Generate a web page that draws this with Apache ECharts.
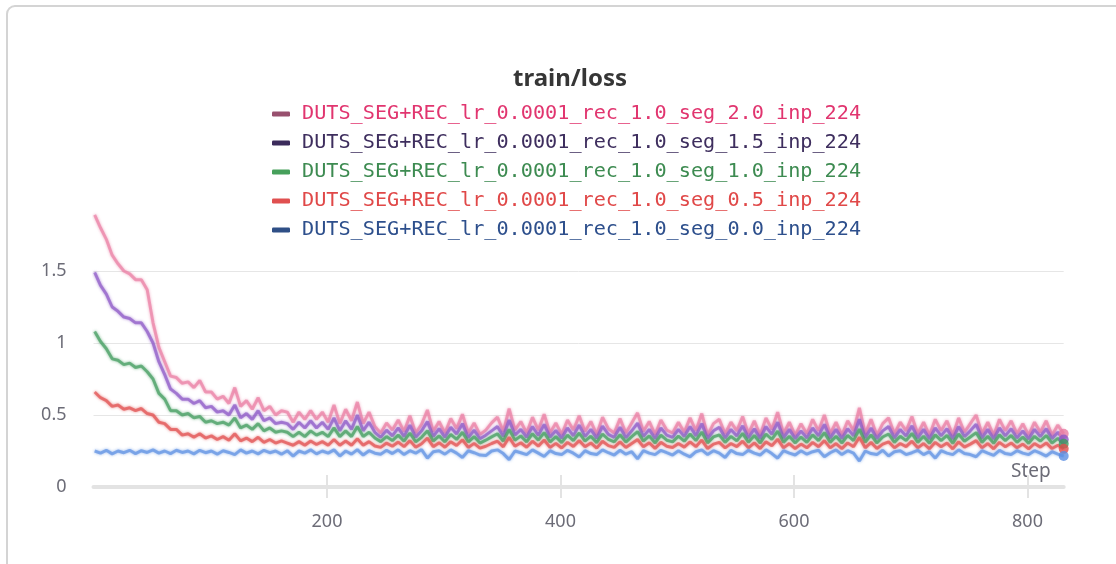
<!DOCTYPE html>
<html>
<head>
<meta charset="utf-8">
<script src="https://cdn.jsdelivr.net/npm/echarts@6/dist/echarts.min.js"></script>
<style>
  html, body { margin: 0; padding: 0; background: #fff; overflow: hidden; }
  #chart { width: 1116px; height: 564px; }
</style>
</head>
<body>
<div id="chart"></div>
<script>
// Run names, in legend order
const runNames = [
  'DUTS_SEG+REC_lr_0.0001_rec_1.0_seg_2.0_inp_224',
  'DUTS_SEG+REC_lr_0.0001_rec_1.0_seg_1.5_inp_224',
  'DUTS_SEG+REC_lr_0.0001_rec_1.0_seg_1.0_inp_224',
  'DUTS_SEG+REC_lr_0.0001_rec_1.0_seg_0.5_inp_224',
  'DUTS_SEG+REC_lr_0.0001_rec_1.0_seg_0.0_inp_224'
];

// train/loss is logged every 5 steps, starting at step 1
const stepFirst = 1;
const stepEvery = 5;

const lossSeg20 = [
  1.89, 1.80, 1.72, 1.61, 1.55, 1.50, 1.48, 1.44, 1.44, 1.37,
  1.14, 0.97, 0.87, 0.77, 0.76, 0.72, 0.73, 0.69, 0.74, 0.66,
  0.66, 0.61, 0.63, 0.58, 0.69, 0.56, 0.60, 0.54, 0.62, 0.53,
  0.56, 0.50, 0.53, 0.52, 0.45, 0.52, 0.47, 0.53, 0.47, 0.52,
  0.45, 0.57, 0.44, 0.54, 0.46, 0.59, 0.44, 0.52, 0.42, 0.375,
  0.445, 0.395, 0.465, 0.385, 0.495, 0.375, 0.435, 0.535, 0.385, 0.455,
  0.375, 0.475, 0.405, 0.505, 0.375, 0.445, 0.365, 0.395, 0.445, 0.485,
  0.385, 0.545, 0.395, 0.455, 0.375, 0.485, 0.395, 0.505, 0.375, 0.445,
  0.365, 0.465, 0.395, 0.495, 0.385, 0.455, 0.365, 0.485, 0.405, 0.375,
  0.475, 0.375, 0.445, 0.515, 0.385, 0.455, 0.365, 0.465, 0.395, 0.375,
  0.45, 0.38, 0.48, 0.39, 0.51, 0.36, 0.44, 0.47, 0.37, 0.45,
  0.39, 0.49, 0.37, 0.46, 0.36, 0.48, 0.40, 0.52, 0.37, 0.45,
  0.36, 0.44, 0.37, 0.47, 0.39, 0.50, 0.37, 0.45, 0.36, 0.46,
  0.39, 0.55, 0.37, 0.47, 0.36, 0.44, 0.48, 0.37, 0.45, 0.39,
  0.49, 0.37, 0.45, 0.36, 0.47, 0.39, 0.46, 0.36, 0.48, 0.38,
  0.44, 0.50, 0.37, 0.45, 0.36, 0.47, 0.39, 0.46, 0.37, 0.44,
  0.36, 0.45, 0.38, 0.46, 0.36, 0.43, 0.37
];

const lossSeg15 = [
  1.49, 1.40, 1.34, 1.25, 1.22, 1.18, 1.17, 1.14, 1.14, 1.08,
  1.00, 0.87, 0.78, 0.68, 0.65, 0.61, 0.61, 0.58, 0.60, 0.55,
  0.56, 0.52, 0.53, 0.50, 0.57, 0.48, 0.51, 0.47, 0.53, 0.46,
  0.48, 0.44, 0.45, 0.44, 0.40, 0.45, 0.41, 0.46, 0.41, 0.45,
  0.40, 0.48, 0.39, 0.46, 0.40, 0.50, 0.39, 0.45, 0.38, 0.345,
  0.395, 0.355, 0.41, 0.35, 0.43, 0.345, 0.39, 0.455, 0.35, 0.405,
  0.345, 0.415, 0.368, 0.44, 0.342, 0.395, 0.335, 0.36, 0.39, 0.42,
  0.35, 0.465, 0.36, 0.40, 0.345, 0.42, 0.358, 0.435, 0.345, 0.393,
  0.338, 0.41, 0.355, 0.43, 0.35, 0.40, 0.338, 0.422, 0.365, 0.345,
  0.415, 0.342, 0.39, 0.443, 0.35, 0.40, 0.335, 0.41, 0.36, 0.345,
  0.40, 0.35, 0.42, 0.355, 0.44, 0.335, 0.39, 0.415, 0.34, 0.40,
  0.355, 0.425, 0.34, 0.405, 0.335, 0.42, 0.365, 0.45, 0.34, 0.40,
  0.335, 0.39, 0.34, 0.41, 0.355, 0.435, 0.34, 0.40, 0.335, 0.405,
  0.355, 0.47, 0.34, 0.41, 0.335, 0.39, 0.42, 0.34, 0.40, 0.355,
  0.425, 0.34, 0.40, 0.333, 0.41, 0.355, 0.405, 0.333, 0.42, 0.35,
  0.39, 0.435, 0.34, 0.40, 0.333, 0.41, 0.355, 0.405, 0.34, 0.39,
  0.333, 0.40, 0.35, 0.405, 0.335, 0.38, 0.33
];

const lossSeg10 = [
  1.08, 1.01, 0.96, 0.89, 0.88, 0.85, 0.86, 0.83, 0.84, 0.80,
  0.75, 0.65, 0.61, 0.53, 0.53, 0.50, 0.51, 0.48, 0.49, 0.45,
  0.46, 0.44, 0.45, 0.43, 0.48, 0.41, 0.43, 0.40, 0.44, 0.39,
  0.41, 0.38, 0.39, 0.38, 0.35, 0.38, 0.35, 0.39, 0.36, 0.38,
  0.35, 0.41, 0.35, 0.39, 0.35, 0.42, 0.35, 0.38, 0.34, 0.315,
  0.35, 0.322, 0.36, 0.318, 0.375, 0.313, 0.345, 0.39, 0.318, 0.355,
  0.313, 0.365, 0.33, 0.38, 0.312, 0.35, 0.305, 0.325, 0.348, 0.37,
  0.318, 0.40, 0.325, 0.355, 0.313, 0.37, 0.325, 0.378, 0.312, 0.35,
  0.308, 0.36, 0.322, 0.375, 0.318, 0.353, 0.308, 0.368, 0.33, 0.313,
  0.363, 0.312, 0.35, 0.385, 0.318, 0.355, 0.305, 0.36, 0.325, 0.313,
  0.353, 0.318, 0.368, 0.322, 0.382, 0.305, 0.348, 0.362, 0.31, 0.352,
  0.32, 0.372, 0.31, 0.358, 0.305, 0.368, 0.33, 0.388, 0.31, 0.352,
  0.305, 0.347, 0.31, 0.362, 0.322, 0.378, 0.31, 0.352, 0.305, 0.358,
  0.322, 0.402, 0.31, 0.362, 0.305, 0.347, 0.368, 0.31, 0.352, 0.322,
  0.372, 0.31, 0.352, 0.303, 0.362, 0.322, 0.358, 0.303, 0.368, 0.318,
  0.347, 0.378, 0.31, 0.352, 0.303, 0.362, 0.322, 0.358, 0.31, 0.347,
  0.303, 0.352, 0.318, 0.358, 0.305, 0.338, 0.30
];

const lossSeg05 = [
  0.66, 0.62, 0.60, 0.56, 0.57, 0.54, 0.55, 0.53, 0.545, 0.51,
  0.50, 0.45, 0.44, 0.40, 0.40, 0.36, 0.37, 0.345, 0.37, 0.34,
  0.355, 0.33, 0.35, 0.325, 0.37, 0.32, 0.34, 0.315, 0.345, 0.31,
  0.33, 0.305, 0.32, 0.305, 0.29, 0.315, 0.29, 0.32, 0.295, 0.315,
  0.29, 0.33, 0.29, 0.32, 0.29, 0.335, 0.29, 0.315, 0.285, 0.275,
  0.305, 0.283, 0.312, 0.28, 0.322, 0.276, 0.30, 0.34, 0.28, 0.308,
  0.276, 0.315, 0.288, 0.328, 0.275, 0.303, 0.27, 0.283, 0.302, 0.318,
  0.279, 0.345, 0.283, 0.307, 0.276, 0.318, 0.284, 0.326, 0.275, 0.303,
  0.271, 0.31, 0.281, 0.322, 0.279, 0.306, 0.27, 0.318, 0.287, 0.275,
  0.313, 0.274, 0.302, 0.33, 0.279, 0.307, 0.268, 0.31, 0.283, 0.274,
  0.302, 0.277, 0.314, 0.28, 0.326, 0.267, 0.298, 0.31, 0.272, 0.302,
  0.28, 0.318, 0.272, 0.306, 0.267, 0.314, 0.287, 0.332, 0.272, 0.302,
  0.267, 0.298, 0.272, 0.31, 0.28, 0.322, 0.272, 0.302, 0.267, 0.306,
  0.28, 0.345, 0.272, 0.31, 0.267, 0.298, 0.314, 0.272, 0.302, 0.28,
  0.318, 0.272, 0.302, 0.265, 0.31, 0.28, 0.306, 0.265, 0.314, 0.277,
  0.298, 0.322, 0.272, 0.302, 0.265, 0.31, 0.28, 0.306, 0.272, 0.298,
  0.265, 0.302, 0.277, 0.306, 0.267, 0.29, 0.265
];

const lossSeg00 = [
  0.25, 0.235, 0.255, 0.23, 0.25, 0.238, 0.255, 0.232, 0.252, 0.24,
  0.258, 0.235, 0.25, 0.232, 0.255, 0.24, 0.25, 0.23, 0.255, 0.238,
  0.25, 0.228, 0.252, 0.24, 0.225, 0.258, 0.235, 0.25, 0.23, 0.255,
  0.238, 0.25, 0.228, 0.252, 0.215, 0.25, 0.235, 0.258, 0.23, 0.25,
  0.235, 0.258, 0.215, 0.25, 0.228, 0.26, 0.222, 0.252, 0.235, 0.228,
  0.255, 0.232, 0.258, 0.225, 0.252, 0.235, 0.26, 0.20, 0.245, 0.252,
  0.228, 0.258, 0.235, 0.205, 0.252, 0.238, 0.222, 0.218, 0.25, 0.258,
  0.232, 0.19, 0.25, 0.238, 0.225, 0.258, 0.235, 0.212, 0.252, 0.232,
  0.225, 0.255, 0.235, 0.208, 0.252, 0.232, 0.225, 0.258, 0.238, 0.222,
  0.255, 0.228, 0.245, 0.195, 0.252, 0.235, 0.225, 0.255, 0.238, 0.222,
  0.252, 0.228, 0.21, 0.245, 0.258, 0.225, 0.252, 0.235, 0.205, 0.255,
  0.232, 0.225, 0.255, 0.235, 0.222, 0.258, 0.232, 0.20, 0.252, 0.235,
  0.222, 0.252, 0.228, 0.245, 0.255, 0.21, 0.238, 0.258, 0.225, 0.252,
  0.235, 0.18, 0.25, 0.232, 0.225, 0.255, 0.215, 0.245, 0.252, 0.225,
  0.238, 0.255, 0.225, 0.245, 0.20, 0.252, 0.235, 0.225, 0.258, 0.232,
  0.225, 0.21, 0.252, 0.235, 0.22, 0.255, 0.232, 0.225, 0.252, 0.235,
  0.225, 0.252, 0.235, 0.215, 0.245, 0.228, 0.215
];

const xTicks = [200, 400, 600, 800];
const yTicks = [0, 0.5, 1, 1.5];

// Per-run colours: plotted line, legend swatch, legend text
const runStyles = [
  { line: '#e97ca3', swatch: '#98506e', text: '#e1356f' },
  { line: '#8b56c6', swatch: '#3b2b5b', text: '#3e2e5e' },
  { line: '#3f9b5c', swatch: '#46a05b', text: '#3d8b51' },
  { line: '#e04c4c', swatch: '#e05050', text: '#e04848' },
  { line: '#5b8fe2', swatch: '#2f4f86', text: '#2d4f8c' }
];

const runValues = [lossSeg20, lossSeg15, lossSeg10, lossSeg05, lossSeg00];

const toPoints = vals => vals.map((v, i) => [stepFirst + i * stepEvery, v]);
const lastStep = stepFirst + (lossSeg20.length - 1) * stepEvery;

const labelColor = '#6c6c77';
const uiFont = "'Noto Sans', 'Open Sans', sans-serif";

const lineSeries = runNames.map((name, k) => ({
  name,
  type: 'line',
  data: toPoints(runValues[k]),
  showSymbol: false,
  symbol: 'none',
  silent: true,
  lineStyle: {
    color: runStyles[k].line,
    width: 3,
    opacity: 0.66,
    shadowColor: runStyles[k].line,
    shadowBlur: 3
  },
  itemStyle: { color: runStyles[k].line },
  emphasis: { disabled: true },
  z: 2 + k
}));

// Dot marking the latest value of each run
const endDots = runNames.map((name, k) => ({
  name: name + ' (last)',
  type: 'scatter',
  data: [[lastStep, runValues[k][runValues[k].length - 1]]],
  symbolSize: 10,
  silent: true,
  itemStyle: { color: runStyles[k].line },
  z: 10 + k
}));

const chart = echarts.init(document.getElementById('chart'), null, { renderer: 'canvas' });

chart.setOption({
  animation: false,
  backgroundColor: '#ffffff',
  title: {
    text: 'train/loss',
    left: 565,
    top: 62,
    textAlign: 'center',
    textStyle: { fontFamily: uiFont, fontWeight: 'bold', fontSize: 24, color: '#363636' }
  },
  legend: {
    orient: 'vertical',
    left: 267,
    top: 98,
    itemWidth: 18,
    itemHeight: 5,
    itemGap: 7,
    selectedMode: false,
    data: runNames.map((name, k) => ({
      name,
      icon: 'roundRect',
      itemStyle: { color: runStyles[k].swatch },
      textStyle: { color: runStyles[k].text }
    })),
    textStyle: {
      fontFamily: "'DejaVu Sans Mono', monospace",
      fontSize: 20.2,
      lineHeight: 22,
      padding: [0, 0, 0, 7]
    }
  },
  graphic: [{
    type: 'rect',
    silent: true,
    shape: { x: 7, y: 6, width: 1300, height: 800, r: 8 },
    style: { fill: 'none', stroke: '#d4d4d4', lineWidth: 2 },
    z: 100
  }],
  grid: { left: 93.5, right: 52.3, top: 199, bottom: 77, containLabel: false },
  xAxis: [{
    type: 'value',
    min: 0,
    max: lastStep,
    name: 'Step',
    nameLocation: 'end',
    nameGap: -13,
    nameTextStyle: {
      fontFamily: uiFont, fontSize: 19, color: labelColor,
      align: 'right', verticalAlign: 'bottom', padding: [0, 0, 6, 0]
    },
    axisLine: { show: true, lineStyle: { color: '#e3e3e3', width: 4 } },
    axisTick: { show: true, length: 11, customValues: xTicks, lineStyle: { color: '#e3e3e3', width: 2 } },
    axisLabel: { customValues: xTicks, margin: 26, fontFamily: uiFont, fontSize: 18, color: labelColor },
    splitLine: { show: false }
  }, {
    // second bottom axis only draws the upper half of each tick mark
    type: 'value',
    min: 0,
    max: lastStep,
    position: 'bottom',
    axisLine: { show: false },
    axisTick: { show: true, inside: true, length: 12, customValues: xTicks, lineStyle: { color: '#e3e3e3', width: 2 } },
    axisLabel: { show: false },
    splitLine: { show: false }
  }],
  yAxis: {
    type: 'value',
    min: 0,
    max: 2,
    interval: 0.5,
    axisLine: { show: false },
    axisTick: { show: false, customValues: yTicks },
    axisLabel: { customValues: yTicks, margin: 27, fontFamily: uiFont, fontSize: 18, color: labelColor },
    splitLine: { show: true, lineStyle: { color: '#e6e6e6', width: 1 } }
  },
  series: [...lineSeries, ...endDots]
});
</script>
</body>
</html>
